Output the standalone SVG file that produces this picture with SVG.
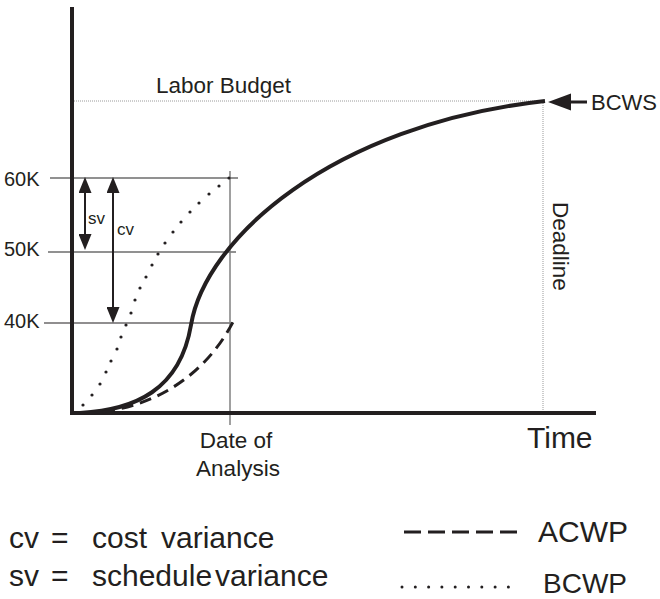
<svg xmlns="http://www.w3.org/2000/svg" width="660" height="599" viewBox="0 0 660 599">
<style>
text{font-family:"Liberation Sans",Arial,sans-serif;fill:#231f20}
.axis{stroke:#231f20;stroke-width:4;fill:none}
.grid{stroke:#6d6d6d;stroke-width:1.3;fill:none}
.ref{stroke:#9a9a9a;stroke-width:1;stroke-dasharray:1 1;fill:none}
.bcws{stroke:#231f20;stroke-width:4;fill:none}
.acwp{stroke:#231f20;stroke-width:3;fill:none;stroke-dasharray:12 7}
.dot{fill:#231f20}
.arr{stroke:#231f20;stroke-width:2;fill:none;marker-start:url(#ah);marker-end:url(#ah)}
</style>
<defs>
<marker id="ah" markerUnits="userSpaceOnUse" viewBox="0 0 16 13" refX="13" refY="6.5" markerWidth="16" markerHeight="13" orient="auto-start-reverse">
<path d="M0,0 L16,6.5 L0,13 z" fill="#231f20"/>
</marker>
</defs>
<rect width="660" height="599" fill="#ffffff"/>

<g id="reference-lines">
<line class="ref" x1="74" y1="101" x2="543" y2="101"/>
<line class="ref" x1="543" y1="101" x2="543" y2="412"/>
<line class="grid" x1="50" y1="178" x2="238" y2="178"/>
<line class="grid" x1="48" y1="252" x2="236" y2="252"/>
<line class="grid" x1="44" y1="323" x2="233" y2="323" style="stroke:#231f20;stroke-width:1.2"/>
<line class="grid" x1="230" y1="171" x2="230" y2="425" style="stroke:#808080;stroke-width:1.5"/>
</g>

<g id="axes">
<line class="axis" x1="72" y1="7" x2="72" y2="415"/>
<line class="axis" x1="70" y1="413" x2="596" y2="413"/>
</g>

<g id="curves">
<path id="bcws-curve" class="bcws" d="M80,413 C135,410 180,390 191,325 C205,240 330,125 545,101"/>
<path id="acwp-curve" class="acwp" d="M84,413 C140,412 200,385 233,322"/>
<g id="bcwp-curve">
<circle class="dot" cx="83" cy="405" r="1.6"/>
<circle class="dot" cx="92" cy="395" r="1.6"/>
<circle class="dot" cx="100" cy="384" r="1.6"/>
<circle class="dot" cx="106" cy="372" r="1.6"/>
<circle class="dot" cx="111" cy="361" r="1.6"/>
<circle class="dot" cx="117" cy="349" r="1.6"/>
<circle class="dot" cx="121" cy="337" r="1.6"/>
<circle class="dot" cx="126" cy="325" r="1.6"/>
<circle class="dot" cx="131" cy="313" r="1.6"/>
<circle class="dot" cx="135" cy="300" r="1.6"/>
<circle class="dot" cx="140" cy="288" r="1.6"/>
<circle class="dot" cx="146" cy="277" r="1.6"/>
<circle class="dot" cx="152" cy="265" r="1.6"/>
<circle class="dot" cx="158" cy="254" r="1.6"/>
<circle class="dot" cx="165" cy="243" r="1.6"/>
<circle class="dot" cx="173" cy="232" r="1.6"/>
<circle class="dot" cx="181" cy="222" r="1.6"/>
<circle class="dot" cx="190" cy="212" r="1.6"/>
<circle class="dot" cx="199" cy="203" r="1.6"/>
<circle class="dot" cx="209" cy="194" r="1.6"/>
<circle class="dot" cx="219" cy="186" r="1.6"/>
<circle class="dot" cx="229" cy="178" r="1.6"/>
</g>
</g>

<g id="connectors">
<line class="arr" x1="85" y1="180" x2="85" y2="247"/>
<line class="arr" x1="113" y1="180" x2="113" y2="320"/>
<line x1="566" y1="102" x2="587" y2="102" stroke="#231f20" stroke-width="3"/>
<polygon points="548,102 571,93.5 571,110.5" fill="#231f20"/>
</g>

<g id="labels">
<text x="156" y="93" font-size="22.5">Labor Budget</text>
<text x="591" y="110" font-size="22">BCWS</text>
<text x="4" y="186" font-size="20">60K</text>
<text x="4" y="256" font-size="20">50K</text>
<text x="4" y="328" font-size="20">40K</text>
<text x="88" y="224" font-size="17">sv</text>
<text x="117" y="235" font-size="17">cv</text>
<text transform="translate(553,202) rotate(90)" font-size="22.5">Deadline</text>
<text x="236" y="448" font-size="22.5" text-anchor="middle">Date of</text>
<text x="238" y="476" font-size="22.5" text-anchor="middle">Analysis</text>
<text x="527" y="448" font-size="30">Time</text>
</g>

<g id="legend">
<text y="548" font-size="30"><tspan x="9">cv</tspan><tspan x="51">=</tspan><tspan x="92">cost</tspan><tspan x="161">variance</tspan></text>
<text y="586" font-size="30"><tspan x="9">sv</tspan><tspan x="51">=</tspan><tspan x="92">schedule</tspan><tspan x="215">variance</tspan></text>
<line x1="404" y1="532" x2="517" y2="532" stroke="#231f20" stroke-width="3" stroke-dasharray="17 7"/>
<text x="538" y="542" font-size="30">ACWP</text>
<circle class="dot" cx="402" cy="587" r="1.5"/>
<circle class="dot" cx="415.3" cy="587" r="1.5"/>
<circle class="dot" cx="428.6" cy="587" r="1.5"/>
<circle class="dot" cx="441.9" cy="587" r="1.5"/>
<circle class="dot" cx="455.2" cy="587" r="1.5"/>
<circle class="dot" cx="468.5" cy="587" r="1.5"/>
<circle class="dot" cx="481.8" cy="587" r="1.5"/>
<circle class="dot" cx="495.1" cy="587" r="1.5"/>
<circle class="dot" cx="508.4" cy="587" r="1.5"/>
<text x="543" y="593" font-size="28">BCWP</text>
</g>
</svg>
